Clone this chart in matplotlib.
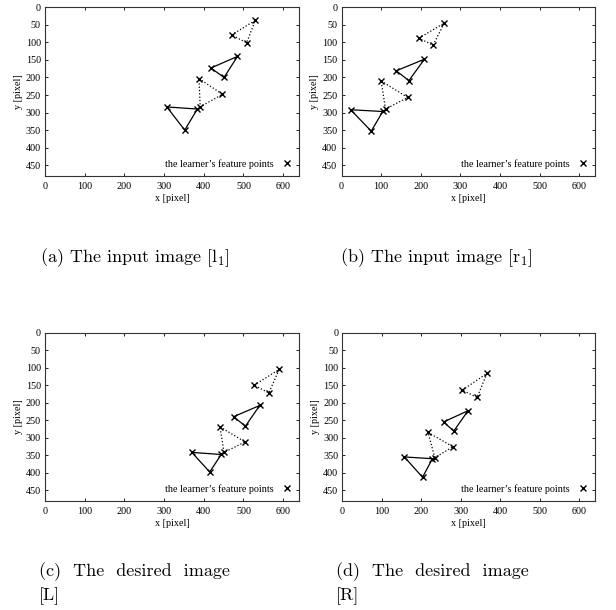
import matplotlib
matplotlib.use('Agg')
from matplotlib import pyplot as plt
import numpy as np

plt.rcParams['font.family'] = ['Liberation Serif', 'DejaVu Serif']
plt.rcParams['mathtext.fontset'] = 'cm'

# feature points per image: 4 triangles each (dotted, solid, dotted, solid)
# each triangle as (x list, y list), in pixel coordinates
pts_l1 = [([470, 530, 508], [79, 37, 101]),
          ([485, 418, 451], [140, 173, 200]),
          ([388, 447, 391], [203, 248, 284]),
          ([307, 384, 352], [284, 290, 350])]
pts_r1 = [([195, 259, 231], [88, 45, 108]),
          ([209, 138, 170], [148, 181, 209]),
          ([100, 167, 111], [210, 257, 290]),
          ([23, 104, 75], [292, 297, 353])]
pts_L = [([527, 590, 564], [150, 105, 172]),
         ([541, 475, 505], [208, 240, 267]),
         ([441, 504, 451], [269, 312, 342]),
         ([370, 444, 415], [342, 348, 398])]
pts_R = [([304, 366, 341], [164, 116, 185]),
         ([318, 256, 282], [223, 255, 281]),
         ([217, 280, 234], [285, 326, 357]),
         ([157, 228, 203], [355, 360, 413])]

styles = [':', '-', ':', '-']
xticks = [0, 100, 200, 300, 400, 500, 600]
yticks = [0, 50, 100, 150, 200, 250, 300, 350, 400, 450]
legend_label = 'the learner\u2019s feature points'

captions = [[r'(a) The input image [$\mathrm{l}_1$]'],
            [r'(b) The input image [$\mathrm{r}_1$]'],
            ['(c)  The  desired  image', '[L]'],
            ['(d)  The  desired  image', '[R]']]

W, H = 616, 610
fig = plt.figure(figsize=(W / 100, H / 100), dpi=100)

# axes boxes in pixels: left, top, right, bottom
boxes = [(45, 7.3, 299, 175.7), (341.5, 7.3, 595.3, 175.7),
         (45, 332.7, 299, 500.7), (342.3, 332.7, 595.3, 500.7)]
cap_pos = [(40, 258), (340, 258), (39, 572), (336, 572)]
cap_step = 24


def draw_panel(ax, tris):
    for (xs, ys), ls in zip(tris, styles):
        ax.plot(xs + xs[:1], ys + ys[:1], ls=ls, color='k', lw=0.9)
    allx = np.concatenate([t[0] for t in tris])
    ally = np.concatenate([t[1] for t in tris])
    ax.plot(allx, ally, 'x', color='k', ms=4.5, mew=1.0, ls='none', label=legend_label)
    ax.set_xlim(0, 640)
    ax.set_ylim(480, 0)
    ax.set_xticks(xticks)
    ax.set_yticks(yticks)
    ax.tick_params(direction='in', top=True, right=True, labelsize=7.3, length=2.5, width=0.6)
    ax.tick_params(axis='x', pad=4.5)
    ax.tick_params(axis='y', pad=3)
    for s in ax.spines.values():
        s.set_linewidth(0.8)
        s.set_color('#333333')
    ax.set_xlabel('x [pixel]', fontsize=7.3, labelpad=2)
    ax.set_ylabel('y [pixel]', fontsize=7.3, labelpad=2)
    ax.legend(loc='lower right', frameon=False, markerfirst=False, fontsize=7.3,
              handlelength=1.0, handletextpad=0.8, borderaxespad=0.3)


for (l, t, r, b), tris in zip(boxes, [pts_l1, pts_r1, pts_L, pts_R]):
    ax = fig.add_axes([l / W, 1 - b / H, (r - l) / W, (b - t) / H])
    draw_panel(ax, tris)

for (cx, cy), lines in zip(cap_pos, captions):
    for i, line in enumerate(lines):
        fig.text(cx / W, 1 - (cy + i * cap_step) / H, line, fontsize=13, family='cmr10',
                 va='center', ha='left')

fig.savefig('out.png', dpi=100)
